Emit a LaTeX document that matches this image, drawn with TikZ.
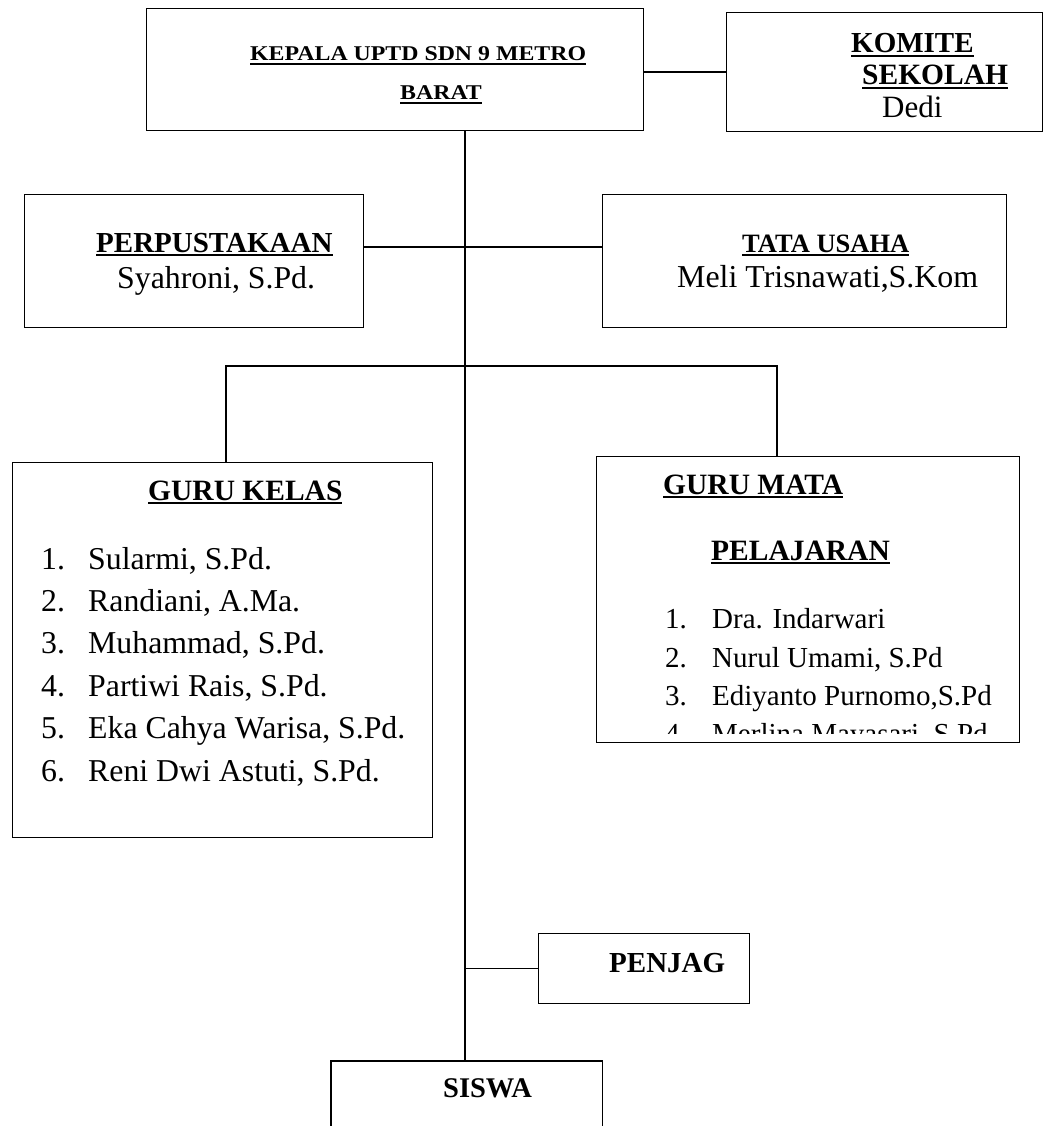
\documentclass[tikz,border=0pt]{standalone}
\usepackage{fontspec}
\setmainfont{Liberation Serif}
\usepackage{graphicx}
\usetikzlibrary{calc}
\newsavebox\ulbx
\newcommand\ulin[1]{\sbox\ulbx{#1}\rlap{\vrule height -2pt depth 4pt width \wd\ulbx}\usebox\ulbx}
\newcommand\fs[1]{\fontsize{#1}{#1}\selectfont}
\begin{document}
\begin{tikzpicture}[x=1pt,y=-1pt,
  orgbox/.style={draw=black, line width=1.2pt, anchor=north west, inner sep=0pt},
  conn/.style={line width=1.3pt},
  trunkline/.style={line width=2pt},
  txt/.style={anchor=base west, inner sep=0pt}]
\useasboundingbox[fill=white] (0,0) rectangle (1043,1126);

% boxes
\node[orgbox, minimum width=497pt, minimum height=122pt] (kepala) at (146,8) {};
\node[orgbox, minimum width=316pt, minimum height=119pt] (komite) at (726,12) {};
\node[orgbox, minimum width=339pt, minimum height=133pt] (perpus) at (24,194) {};
\node[orgbox, minimum width=404pt, minimum height=133pt] (tatausaha) at (602,194) {};
\node[orgbox, minimum width=420pt, minimum height=375pt] (gurukelas) at (12,462) {};
\node[orgbox, minimum width=423pt, minimum height=286pt] (gurumata) at (596,456) {};
\node[orgbox, minimum width=211pt, minimum height=70pt] (penjag) at (538,933) {};
\node[anchor=north west, inner sep=0pt, minimum width=271pt, minimum height=80pt] (siswa) at (331,1061) {};
\draw[line width=1.2pt] (siswa.south west) -- (siswa.north west) -- (siswa.north east) -- (siswa.south east);

% connectors
\coordinate (tx) at (465,0);
\coordinate (dl) at (226,366);
\coordinate (dr) at (777,366);
\draw[conn] (kepala.east |- 0,72) -- (komite.west |- 0,72);
\draw[trunkline] (kepala.south -| tx) -- (siswa.north -| tx);
\draw[conn] (perpus.east |- 0,247) -- (tatausaha.west |- 0,247);
\draw[conn] (gurukelas.north -| dl) -- (dl) -- (dr) -- (gurumata.north -| dr);
\draw[conn] (penjag.west -| tx) -- (penjag.west);

% texts
\node[txt, font=\fs{21}\bfseries] (t1) at (250,61) {\scalebox{1.135}[1]{\ulin{KEPALA UPTD SDN 9 METRO}}};
\node[txt, font=\fs{21}\bfseries] (t2) at (400,100) {\scalebox{1.135}[1]{\ulin{BARAT}}};
\node[txt, font=\fs{29}\bfseries] (t3) at (851,53) {\ulin{KOMITE}};
\node[txt, font=\fs{29.5}\bfseries] (t4) at (862,85) {\ulin{SEKOLAH}};
\node[txt, font=\fs{31}] (t5) at (882,118) {Dedi};
\node[txt, font=\fs{29}\bfseries] (t6) at (96,252) {\ulin{PERPUSTAKAAN}};
\node[txt, font=\fs{31.8}] (t7) at (117,288) {Syahroni, S.Pd.};
\node[txt, font=\fs{26.5}\bfseries] (t8) at (742,252) {\ulin{TATA USAHA}};
\node[txt, font=\fs{31.9}] (t9) at (677,287) {Meli Trisnawati,S.Kom};
\node[txt, font=\fs{29.5}\bfseries] (t10) at (148,500) {\ulin{GURU KELAS}};
\foreach \i/\nm in {1/{Sularmi, S.Pd.},2/{Randiani, A.Ma.},3/{Muhammad, S.Pd.},4/{Partiwi Rais, S.Pd.},5/{Eka Cahya Warisa, S.Pd.},6/{Reni Dwi Astuti, S.Pd.}}{
  \node[txt, font=\fs{31.8}] (gkn\i) at (41,{569+42.4*(\i-1)}) {\i.};
  \node[txt, font=\fs{31.8}] (gk\i) at (88,{569+42.4*(\i-1)}) {\nm};
}
\node[txt, font=\fs{29.5}\bfseries] (t11) at (663,494) {\ulin{GURU MATA}};
\node[txt, font=\fs{29.5}\bfseries] (t12) at (711,560) {\ulin{PELAJARAN}};
\begin{scope}
\clip (596,456) rectangle (1019,733);
\foreach \i/\y/\nm in {1/628/{Dra. Indarwari},2/667/{Nurul Umami, S.Pd},3/705/{Ediyanto Purnomo,S.Pd},4/743/{Merlina Mayasari, S.Pd}}{
  \node[txt, font=\fs{29}] (gmn\i) at (665,\y) {\i.};
  \node[txt, font=\fs{29}] (gm\i) at (712,\y) {\nm};
}
\end{scope}
\node[txt, font=\fs{29}\bfseries] (t13) at (609,972) {PENJAG};
\node[txt, font=\fs{28.5}\bfseries] (t14) at (443,1097) {SISWA};
\end{tikzpicture}
\end{document}
